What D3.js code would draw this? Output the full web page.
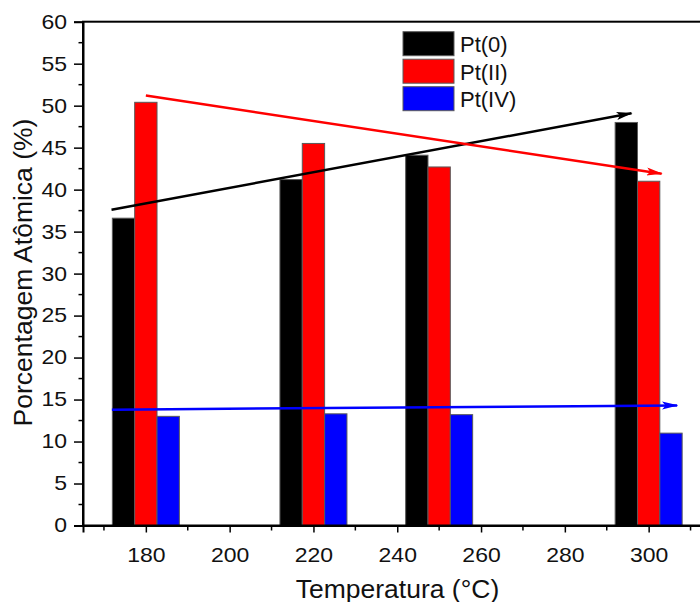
<!DOCTYPE html>
<html>
<head>
<meta charset="utf-8">
<script src="https://cdn.jsdelivr.net/npm/d3@7"></script>
<style>
  html, body { margin: 0; padding: 0; background: #fff; overflow: hidden; }
  svg { display: block; font-family: Arial, "Liberation Sans", sans-serif; }
</style>
</head>
<body>
<svg id="chart" width="700" height="602"></svg>
<script>
// Temperatures (°C) of each sample and the atomic percentage of each Pt species
const temperatures = [180, 220, 250, 300];
const species = ["Pt(0)", "Pt(II)", "Pt(IV)"];
const pt0 = [36.6, 41.2, 44.1, 48.0];
const pt2 = [50.4, 45.5, 42.7, 41.0];
const pt4 = [13.0, 13.3, 13.2, 11.0];
const seriesValues = [pt0, pt2, pt4];
const seriesColors = ["#000000", "#ff0000", "#0000ff"];

// Trend arrows: [temperature, percentage] start and end points
const trendPt0 = [[171.8, 37.6], [295.9, 49.1]];
const trendPt2 = [[180.0, 51.2], [303.1, 41.9]];
const trendPt4 = [[171.9, 13.8], [306.8, 14.3]];

const xTicks = [180, 200, 220, 240, 260, 280, 300];
const yTicks = [0, 5, 10, 15, 20, 25, 30, 35, 40, 45, 50, 55, 60];

const svg = d3.select("#chart");
const plotLeft = 83, plotTop = 21.7, plotBottom = 525.5, plotRight = 711.5;
const labelStretch = 1.15; // tick labels are drawn slightly widened

const x = d3.scaleLinear().domain([165, 315]).range([plotLeft, plotRight]);
const y = d3.scaleLinear().domain([0, 60]).range([plotBottom, plotTop]);

const barW = 5.33; // bar width in °C
const offsets = [-barW, 0, barW];

// Bars
seriesValues.forEach((vals, si) => {
  svg.append("g").selectAll("rect")
    .data(vals.map((v, i) => ({ t: temperatures[i], v })))
    .join("rect")
    .attr("x", d => x(d.t + offsets[si] - barW / 2))
    .attr("width", d => x(d.t + barW / 2) - x(d.t - barW / 2))
    .attr("y", d => y(d.v))
    .attr("height", d => y(0) - y(d.v))
    .attr("fill", seriesColors[si])
    .attr("stroke", "#5a5a5a")
    .attr("stroke-width", 1);
});

// Arrowheads
const defs = svg.append("defs");
seriesColors.forEach((c, i) => {
  defs.append("marker")
    .attr("id", "arrow" + i)
    .attr("viewBox", "0 0 14 7")
    .attr("refX", 13).attr("refY", 3.5)
    .attr("markerWidth", 6.5).attr("markerHeight", 3.25)
    .attr("markerUnits", "strokeWidth")
    .attr("orient", "auto")
    .append("path")
    .attr("d", "M0,0 L14,3.5 L0,7 L3,3.5 Z")
    .attr("fill", c);
});

[trendPt0, trendPt2, trendPt4].forEach((seg, i) => {
  svg.append("line")
    .attr("x1", x(seg[0][0])).attr("y1", y(seg[0][1]))
    .attr("x2", x(seg[1][0])).attr("y2", y(seg[1][1]))
    .attr("stroke", seriesColors[i])
    .attr("stroke-width", 2.5)
    .attr("marker-end", "url(#arrow" + i + ")");
});

// Frame
svg.append("rect")
  .attr("x", plotLeft).attr("y", plotTop)
  .attr("width", plotRight - plotLeft).attr("height", plotBottom - plotTop)
  .attr("fill", "none").attr("stroke", "#000").attr("stroke-width", 2);

// Y axis
const yAxis = d3.axisLeft(y).tickValues(yTicks).tickSize(9).tickPadding(7);
const gy = svg.append("g").attr("transform", `translate(${plotLeft},0)`).call(yAxis);
gy.select(".domain").attr("stroke-width", 2);
gy.selectAll(".tick line").attr("stroke-width", 1.5);
gy.selectAll(".tick text")
  .attr("font-size", 20).attr("fill", "#111")
  .attr("x", -16 / labelStretch)
  .attr("transform", `scale(${labelStretch},1)`);
const yMinor = d3.range(2.5, 60, 5);
svg.append("g").selectAll("line").data(yMinor).join("line")
  .attr("x1", plotLeft - 4.5).attr("x2", plotLeft)
  .attr("y1", d => y(d)).attr("y2", d => y(d))
  .attr("stroke", "#000").attr("stroke-width", 1.5);

// X axis
const xAxis = d3.axisBottom(x).tickValues(xTicks).tickSize(7).tickPadding(15.5);
const gx = svg.append("g").attr("transform", `translate(0,${plotBottom})`).call(xAxis);
gx.select(".domain").attr("stroke-width", 2);
gx.selectAll(".tick line").attr("stroke-width", 1.5);
gx.selectAll(".tick text")
  .attr("font-size", 20).attr("fill", "#111")
  .attr("transform", `scale(${labelStretch},1)`)
  .attr("y", 22);
const xMinor = d3.range(170, 315, 20);
svg.append("g").selectAll("line").data(xMinor).join("line")
  .attr("x1", d => x(d)).attr("x2", d => x(d))
  .attr("y1", plotBottom).attr("y2", plotBottom + 5)
  .attr("stroke", "#000").attr("stroke-width", 1.5);

// Axis titles
svg.append("text")
  .attr("transform", "translate(397.5,598) scale(1.06,1)")
  .attr("text-anchor", "middle")
  .attr("font-size", 25).attr("fill", "#111")
  .text("Temperatura (°C)");
svg.append("text")
  .attr("transform", "translate(31.5,272.5) rotate(-90)")
  .attr("text-anchor", "middle")
  .attr("font-size", 26.5).attr("fill", "#111")
  .text("Porcentagem Atômica (%)");

// Legend
const legend = svg.append("g").attr("transform", "translate(403,31.7)");
species.forEach((name, i) => {
  const g = legend.append("g").attr("transform", `translate(0,${i * 27.5})`);
  g.append("rect").attr("width", 51).attr("height", 24)
    .attr("fill", seriesColors[i]).attr("stroke", "#5a5a5a").attr("stroke-width", 1);
  g.append("text").attr("x", 57).attr("y", 20.6)
    .attr("font-size", 22).attr("fill", "#111").text(name);
});
</script>
</body>
</html>
